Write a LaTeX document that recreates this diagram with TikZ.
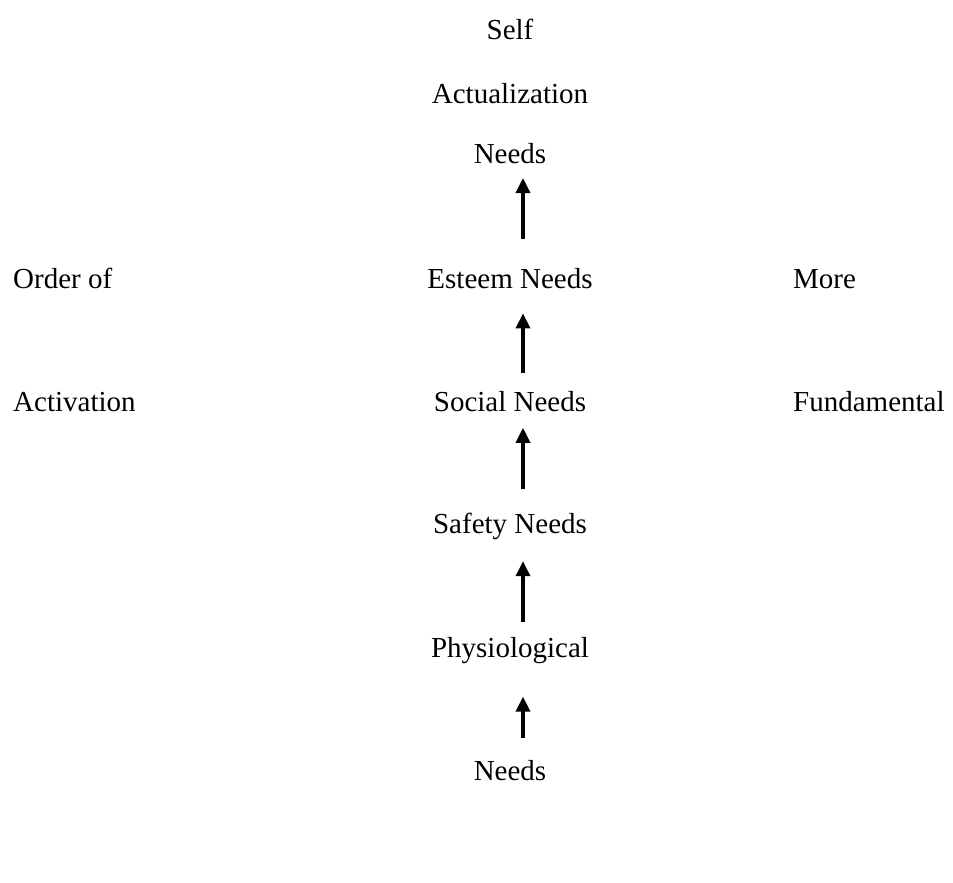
\documentclass[tikz,border=0pt]{standalone}
\usepackage{fontspec}
\setmainfont{Liberation Serif}
\usetikzlibrary{arrows.meta,positioning}
\tikzset{
  need/.style={inner sep=0pt,text height=20pt,text depth=6pt,
    font=\fontsize{29pt}{34pt}\selectfont},
  uparr/.style={-{Triangle[width=14pt,length=15pt]},line width=3.4pt},
}
\begin{document}
\begin{tikzpicture}[x=1pt,y=-1pt,node distance=97pt]
  \useasboundingbox (0,0) rectangle (953,883);
  \coordinate (lmargin) at (13,0);
  \coordinate (rmargin) at (793,0);

  % the column of needs
  \node[need,anchor=base] (self) at (510,40) {Self};
  \node[need,below=37pt of self] (actual) {Actualization};
  \node[need,below=34pt of actual] (topneeds) {Needs};
  \node[need,below=98pt of topneeds] (esteem) {Esteem Needs};
  \node[need,below=of esteem] (social) {Social Needs};
  \node[need,below=95pt of social] (safety) {Safety Needs};
  \node[need,below=98pt of safety] (physio) {Physiological};
  \node[need,below=of physio] (lowneeds) {Needs};

  % side labels
  \node[need,anchor=base west] (order) at (esteem.base -| lmargin) {Order of};
  \node[need,anchor=base west] (activ) at (social.base -| lmargin) {Activation};
  \node[need,anchor=base west] (more) at (esteem.base -| rmargin) {More};
  \node[need,anchor=base west] (fund) at (social.base -| rmargin) {Fundamental};

  \draw[uparr,shorten <=29pt,shorten >=8pt] ([xshift=13pt]esteem.north) -- ([xshift=13pt]topneeds.south);
  \draw[uparr,shorten <=18pt,shorten >=19pt] ([xshift=13pt]social.north) -- ([xshift=13pt]esteem.south);
  \draw[uparr,shorten <=24pt,shorten >=10pt] ([xshift=13pt]safety.north) -- ([xshift=13pt]social.south);
  \draw[uparr,shorten <=15pt,shorten >=22pt] ([xshift=13pt]physio.north) -- ([xshift=13pt]safety.south);
  \draw[uparr,shorten <=23pt,shorten >=33pt] ([xshift=13pt]lowneeds.north) -- ([xshift=13pt]physio.south);
\end{tikzpicture}
\end{document}
